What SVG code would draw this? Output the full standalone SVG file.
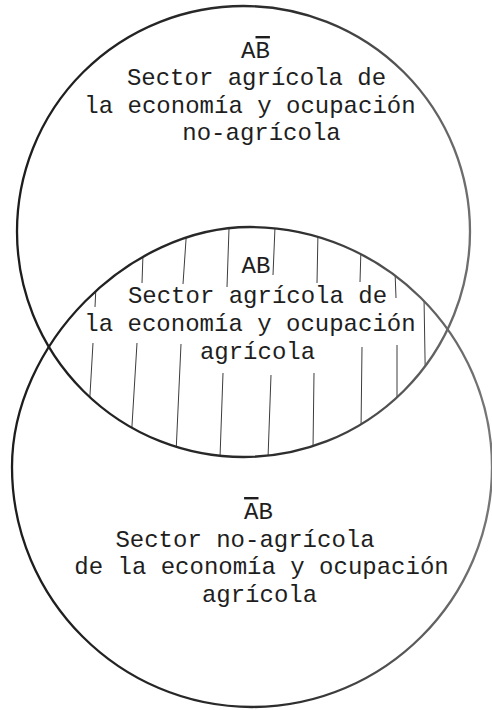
<svg xmlns="http://www.w3.org/2000/svg" width="492" height="710" viewBox="0 0 492 710">
  <style>
    .ring { fill: none; stroke: url(#ink); stroke-width: 2.3; }
    .hatch { stroke: #3c3c3c; stroke-width: 1; fill: none; }
    .lbl { font-family: "Liberation Mono", "DejaVu Sans Mono", monospace; font-size: 24px; fill: #1e1e1e; text-anchor: middle; }
    .ov { text-decoration: overline; }
  </style>
  <defs>
    <linearGradient id="ink" gradientUnits="userSpaceOnUse" x1="0" y1="0" x2="492" y2="0">
      <stop offset="0" stop-color="#1c1c1c"/>
      <stop offset="0.6" stop-color="#2e2e2e"/>
      <stop offset="1" stop-color="#777777"/>
    </linearGradient>
    <clipPath id="clipA">
      <ellipse cx="243.5" cy="231.5" rx="226.5" ry="225.5"/>
    </clipPath>
    <clipPath id="clipB">
      <path d="M12,467 C12,345 128,227 250,227 C382,227 492,335 492,467 C492,599 384,707 252,707 C120,707 12,599 12,467 Z"/>
    </clipPath>
  </defs>
  <rect width="492" height="710" fill="#ffffff"/>

  <g id="hatching" clip-path="url(#clipA)">
    <g clip-path="url(#clipB)">
      <line class="hatch" x1="96.5" y1="275" x2="95" y2="307"/>
      <line class="hatch" x1="143.5" y1="240" x2="142" y2="283"/>
      <line class="hatch" x1="187" y1="225" x2="183" y2="284"/>
      <line class="hatch" x1="229.3" y1="220" x2="227" y2="287"/>
      <line class="hatch" x1="275.3" y1="220" x2="273" y2="275"/>
      <line class="hatch" x1="318.2" y1="222" x2="317" y2="283"/>
      <line class="hatch" x1="361.3" y1="238" x2="360" y2="282"/>
      <line class="hatch" x1="394.6" y1="260" x2="396" y2="298"/>
      <line class="hatch" x1="423.8" y1="285" x2="425.3" y2="375"/>

      <line class="hatch" x1="93" y1="343" x2="89" y2="412"/>
      <line class="hatch" x1="137" y1="343" x2="131" y2="442"/>
      <line class="hatch" x1="181" y1="344" x2="175.6" y2="462"/>
      <line class="hatch" x1="223" y1="373" x2="219.5" y2="472"/>
      <line class="hatch" x1="271" y1="375" x2="267.5" y2="472"/>
      <line class="hatch" x1="314" y1="373" x2="312.7" y2="472"/>
      <line class="hatch" x1="362" y1="347" x2="360.8" y2="447"/>
      <line class="hatch" x1="397" y1="345" x2="397" y2="417"/>
    </g>
  </g>

  <g id="set-A">
    <ellipse class="ring" cx="243.5" cy="231.5" rx="226.5" ry="225.5"/>
  </g>
  <g id="set-B">
    <path class="ring" d="M12,467 C12,345 128,227 250,227 C382,227 492,335 492,467 C492,599 384,707 252,707 C120,707 12,599 12,467 Z"/>
  </g>

  <g id="region-A-notB">
    <text class="lbl" x="255.5" y="58">A<tspan class="ov">B</tspan></text>
    <text class="lbl" x="256.5" y="85">Sector agrícola de</text>
    <text class="lbl" x="250" y="113">la economía y ocupación</text>
    <text class="lbl" x="261.5" y="140">no-agrícola</text>
  </g>

  <g id="region-AB">
    <text class="lbl" x="256" y="273">AB</text>
    <text class="lbl" x="257.5" y="303">Sector agrícola de</text>
    <text class="lbl" x="250" y="331">la economía y ocupación</text>
    <text class="lbl" x="257.5" y="359">agrícola</text>
  </g>

  <g id="region-notA-B">
    <text class="lbl" x="258.5" y="519"><tspan class="ov">A</tspan>B</text>
    <text class="lbl" x="245" y="547">Sector no-agrícola</text>
    <text class="lbl" x="261.5" y="574">de la economía y ocupación</text>
    <text class="lbl" x="259.5" y="602">agrícola</text>
  </g>

  <g id="connectors"/>
</svg>
